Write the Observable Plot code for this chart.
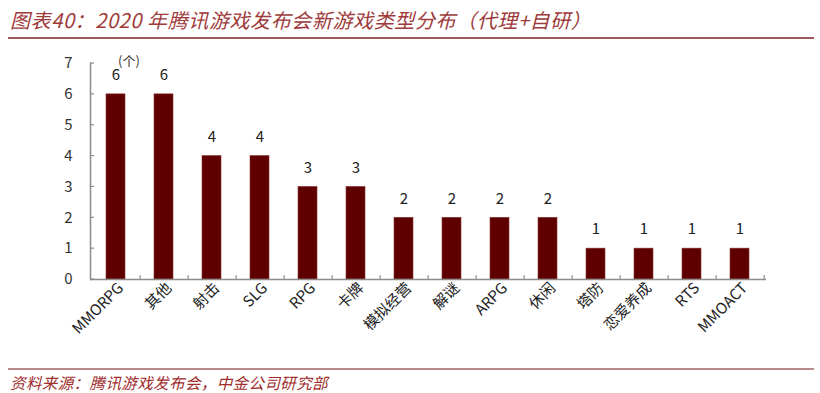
<!DOCTYPE html>
<html><head><meta charset="utf-8">
<script src="https://cdn.jsdelivr.net/npm/d3@7"></script>
<script src="https://cdn.jsdelivr.net/npm/@observablehq/plot@0.6"></script>
<style>
body{margin:0;background:#fff;}
#wrap{position:relative;width:820px;height:393px;overflow:hidden;font-family:"Noto Sans CJK SC","Noto Sans",sans-serif;}
#title{position:absolute;left:10px;top:5px;font-size:20px;font-style:italic;color:#9e3a3a;white-space:nowrap;letter-spacing:0.6px;}
#tline{position:absolute;left:8px;top:37px;width:806px;height:2px;background:#a05a5a;}
#chart{position:absolute;left:0;top:40px;}
#fline{position:absolute;left:8px;top:368px;width:806px;height:2px;background:#b88c8c;}
#foot{position:absolute;left:10px;top:371px;font-size:15.5px;font-style:italic;color:#a02c2c;white-space:nowrap;letter-spacing:0.4px;}
</style></head>
<body>
<div id="wrap">
<div id="title">图表40：2020 年腾讯游戏发布会新游戏类型分布（代理+自研）</div>
<div id="tline"></div>
<div id="chart"></div>
<div id="fline"></div>
<div id="foot">资料来源：腾讯游戏发布会，中金公司研究部</div>
</div>
<script>
const categories = ["MMORPG","其他","射击","SLG","RPG","卡牌","模拟经营","解谜","ARPG","休闲","塔防","恋爱养成","RTS","MMOACT"];
const counts = [6,6,4,4,3,3,2,2,2,2,1,1,1,1];
const yTicks = [0,1,2,3,4,5,6,7];
const unitLabel = "(个)";

const data = categories.map((c,i)=>({cat:c, v:counts[i]}));
const W = 820, H = 328, mL = 90, mR = 54, mT = 23, mB = 89;
const step = (W - mL - mR) / categories.length;
const axisColor = "#8c8c8c";

const chart = Plot.plot({
  width: W, height: H,
  marginLeft: mL, marginRight: mR, marginTop: mT, marginBottom: mB,
  style: {fontFamily: '"Noto Sans CJK SC","Noto Sans",sans-serif', fontSize: "14px", color: "#222", background: "#fff"},
  x: {domain: categories, paddingInner: 0.6, paddingOuter: 0.3, label: null},
  y: {domain: [0,7], label: null},
  marks: [
    Plot.barY(data, {x: "cat", y: "v", fill: "#5e0000", stroke: "#8a3535", strokeWidth: 0.6}),
    Plot.ruleY([0], {stroke: axisColor, strokeWidth: 1.5}),
    Plot.frame({anchor: "left", stroke: axisColor, strokeWidth: 1.5}),
    Plot.ruleX(categories, {x: d=>d, y1: 0, y2: 0.13, dx: step/2, stroke: axisColor, strokeWidth: 1.2}),
    Plot.axisY({ticks: yTicks, tickFormat: d3.format("d"), tickSize: 0, tickPadding: 18, fontSize: 15, fill: "#333", label: null}),
    Plot.tickY(yTicks, {y: d=>d, render: (index, scales, values, dims) => {
      const g = d3.create("svg:g");
      for (const i of index) g.append("line").attr("x1", dims.marginLeft).attr("x2", dims.marginLeft + 4).attr("y1", values.y[i]).attr("y2", values.y[i]).attr("stroke", axisColor).attr("stroke-width", 1.2);
      return g.node();
    }}),
    Plot.axisX({tickSize: 0, tickPadding: 6, dx: 5, tickRotate: -45, fontSize: 15, fill: "#222", label: null}),
    Plot.text(data, {x: "cat", y: "v", text: d=>String(d.v), dy: -19, fontSize: 15, fill: "#222"}),
    Plot.text([unitLabel], {x: () => categories[0], y: () => 7, text: d=>d, dx: 13, dy: -2, fontSize: 13, fill: "#333"})
  ]
});
document.getElementById("chart").appendChild(chart);
</script>
</body></html>
